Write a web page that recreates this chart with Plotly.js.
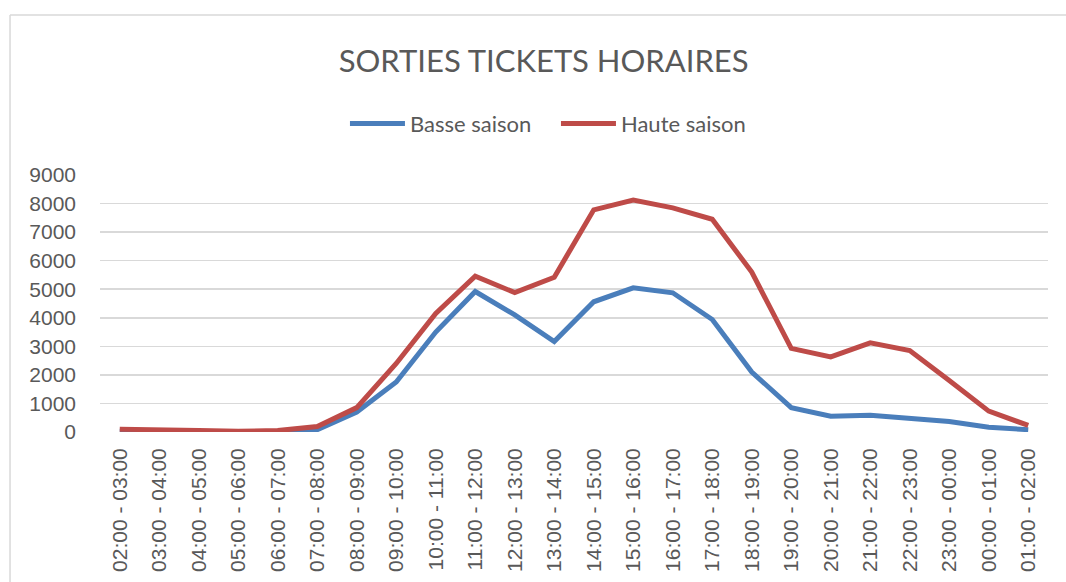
<!DOCTYPE html>
<html>
<head>
<meta charset="utf-8">
<script src="https://cdn.plot.ly/plotly-3.0.1.min.js"></script>
<style>
html,body{margin:0;padding:0;background:#fff;}
#chart{width:1066px;height:582px;}
</style>
</head>
<body>
<div id="chart"></div>
<script>
const categories = [
  "02:00 - 03:00","03:00 - 04:00","04:00 - 05:00","05:00 - 06:00","06:00 - 07:00","07:00 - 08:00",
  "08:00 - 09:00","09:00 - 10:00","10:00 - 11:00","11:00 - 12:00","12:00 - 13:00","13:00 - 14:00",
  "14:00 - 15:00","15:00 - 16:00","16:00 - 17:00","17:00 - 18:00","18:00 - 19:00","19:00 - 20:00",
  "20:00 - 21:00","21:00 - 22:00","22:00 - 23:00","23:00 - 00:00","00:00 - 01:00","01:00 - 02:00"
];
const basseSaison = [30, 20, 20, 10, 10, 80, 700, 1750, 3500, 4920, 4100, 3170,
                     4560, 5050, 4875, 3940, 2100, 855, 550, 590, 500, 370, 170, 80];
const hauteSaison = [100, 60, 50, 30, 50, 190, 855, 2400, 4150, 5460, 4880, 5420,
                     7780, 8120, 7850, 7450, 5600, 2930, 2630, 3120, 2850, 1800, 730, 230];
const yTicks = [0,1000,2000,3000,4000,5000,6000,7000,8000,9000];

const traces = [
  {x: categories, y: basseSaison, name: "Basse saison", type: "scatter", mode: "lines",
   line: {color: "#4a7ebb", width: 5}},
  {x: categories, y: hauteSaison, name: "Haute saison", type: "scatter", mode: "lines",
   line: {color: "#be4b48", width: 5}}
];

const layout = {
  width: 1066, height: 582,
  margin: {l: 100, r: 18, t: 175, b: 150},
  paper_bgcolor: "#ffffff", plot_bgcolor: "#ffffff",
  font: {family: "Liberation Sans, Arial, sans-serif", color: "#595959"},
  title: {text: "SORTIES TICKETS HORAIRES", x: 0.51, xanchor: "center", y: 0.895, yanchor: "middle",
          font: {family: "Lato, sans-serif", size: 31, color: "#595959"}},
  showlegend: true,
  legend: {orientation: "h", x: 0.2584, xanchor: "left", y: 1.2, yanchor: "middle",
           entrywidth: 141, entrywidthmode: "pixels",
           font: {family: "Lato, sans-serif", size: 22, color: "#595959"}, itemwidth: 55, tracegroupgap: 0},
  xaxis: {type: "category", tickangle: -90, showgrid: false, zeroline: false, showline: false,
          ticks: "", ticklabelstandoff: 11, tickfont: {size: 21, color: "#595959"},
          range: [-0.5, categories.length - 0.5], fixedrange: true},
  yaxis: {range: [0, 9000], tickvals: yTicks, ticktext: yTicks.map(String),
          showgrid: true, gridcolor: "#d9d9d9", gridwidth: 1.5, zeroline: false, showline: false,
          ticks: "", ticklabelstandoff: 23, tickfont: {size: 21, color: "#595959"}, fixedrange: true},
  shapes: [
    {type: "line", xref: "paper", yref: "paper", x0: -0.0949, x1: 1.1, y0: 1.623, y1: 1.623,
     line: {color: "#d9d9d9", width: 1.5}},
    {type: "line", xref: "paper", yref: "paper", x0: -0.0949, x1: -0.0949, y0: 1.623, y1: -0.7,
     line: {color: "#d9d9d9", width: 1.5}}
  ]
};

Plotly.newPlot("chart", traces, layout, {displayModeBar: false, staticPlot: true});
</script>
</body>
</html>
